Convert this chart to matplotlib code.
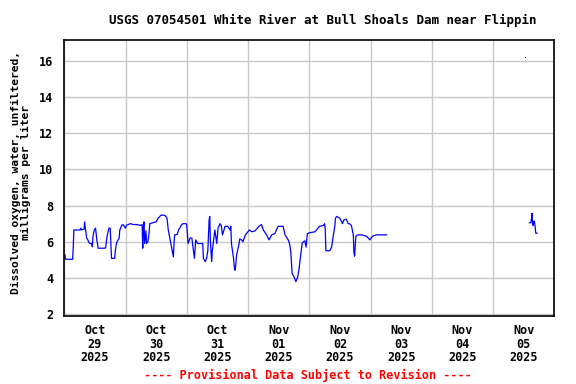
import numpy as np
import matplotlib
matplotlib.use("Agg")
import matplotlib.pyplot as plt
import matplotlib.dates as mdates
from datetime import datetime, timedelta

# Data: hours after 2025-10-29 00:00, dissolved oxygen (mg/L)
hours_a = [0.25, 0.5, 3.25, 3.5, 3.75, 6.25, 6.5, 6.75, 7.75, 8.0, 8.25, 8.5, 8.75, 9.25, 9.5,
           10, 10.75, 11, 11.25, 11.75, 12.25, 12.75, 13, 13.25, 16, 16.25, 16.75, 17.5, 18,
           18.25, 18.5, 19.75, 20, 20.5, 21.5, 21.75, 22.5, 23, 24, 24.25, 25, 26, 27, 28.5,
           29.75, 30.5, 30.75, 31, 31.25, 31.5, 32, 32.25, 32.75, 33.25, 33.5, 34.75, 36,
           36.75, 38, 39.5, 40.25, 40.75, 41.75, 42.75, 43, 43.25, 44.25, 44.75, 45.25, 45.75,
           46.5, 47.75, 48, 48.5, 49.25, 50, 50.25, 51, 51.5, 52.25, 54.25, 54.5, 55.25, 55.75,
           56.25, 56.75, 57, 57.25, 57.75, 58, 59, 59.75, 60.25, 61, 61.5, 62, 63, 64, 65,
           65.25, 65.5, 66.25, 66.75, 67, 67.5, 68.5, 68.75, 69.5, 70, 71, 72.5, 73.5, 74.75,
           76.25, 77.25, 78, 79.25, 80.25, 81.25, 82.5, 83.75, 85.75, 86.5, 87.75, 88.25,
           88.75, 89.25, 90, 90.75, 91.5, 92, 92.75, 93.25, 94.25, 94.75, 95.25, 96.25, 98.25,
           100, 101.5, 102, 102.25, 102.5, 104, 104.75, 105.25, 106, 106.25, 106.75, 108, 109,
           109.5, 110.5, 111.25, 111.75, 112.5, 113.25, 113.5, 113.75, 114.25, 115, 116.5,
           118.5, 119.75, 120.75, 122.25, 124.25, 126.25]
values_a = [5.27, 5.03, 5.03, 5.64, 6.65, 6.65, 6.75, 6.65, 6.7, 7.1, 6.7, 6.5, 6.2, 6.1, 6.0,
            5.9, 5.9, 5.72, 6.3, 6.65, 6.75, 6.1, 5.9, 5.64, 5.64, 5.72, 6.3, 6.75, 6.75,
            5.9, 5.08, 5.08, 5.5, 5.95, 6.2, 6.65, 6.9, 6.95, 6.75, 6.9, 6.95, 7.0, 6.95, 6.95,
            6.9, 6.95, 5.64, 6.8, 7.1, 5.9, 6.6, 5.9, 6.0, 6.5, 7.0, 7.05, 7.1,
            7.3, 7.48, 7.45, 7.3, 6.65, 5.9, 5.16, 5.9, 6.38, 6.4, 6.65, 6.75, 6.9,
            7.0, 7.0, 6.9, 5.9, 6.2, 6.2, 5.9, 5.08, 6.1, 5.9, 5.9, 5.08, 4.9, 5.08,
            5.5, 7.2, 7.4, 6.0, 4.9, 5.5, 6.65, 5.9, 6.75, 7.0, 6.9, 6.38, 6.85, 6.85, 6.65,
            6.85, 5.9, 5.16, 4.43, 4.43, 5.25, 5.9, 6.15, 6.1, 6.0, 6.38, 6.65, 6.55, 6.6,
            6.85, 6.95, 6.65, 6.38, 6.1, 6.38, 6.45, 6.85, 6.85, 6.38, 6.1, 5.9,
            5.45, 4.25, 4.06, 3.79, 4.06, 4.52, 5.4, 5.95, 6.05, 5.7, 6.45, 6.5, 6.55,
            6.85, 6.9, 7.0, 6.7, 5.5, 5.5, 5.7, 6.2, 6.85, 7.3, 7.4, 7.3, 7.0,
            7.2, 7.25, 7.0, 7.0, 6.9, 6.38, 5.4, 5.2, 6.3, 6.38, 6.38,
            6.3, 6.1, 6.3, 6.38, 6.38, 6.38]

hours_pt = [180.5]
values_pt = [16.2]

hours_b = [182.25, 182.75, 183.0, 183.25, 183.5, 183.75, 184.0, 184.25, 184.5, 184.75, 185.25]
values_b = [7.05, 7.05, 7.2, 7.57, 6.95, 6.9, 7.15, 7.1, 6.83, 6.47, 6.47]

day_labels = ["Oct\n29\n2025", "Oct\n30\n2025", "Oct\n31\n2025", "Nov\n01\n2025",
              "Nov\n02\n2025", "Nov\n03\n2025", "Nov\n04\n2025", "Nov\n05\n2025"]
y_ticks = [2, 4, 6, 8, 10, 12, 14, 16]

start = datetime(2025, 10, 29)
to_dt = lambda hs: [start + timedelta(hours=h) for h in hs]

mono = "DejaVu Sans Mono"
fig = plt.figure(figsize=(5.76, 3.84), dpi=100)
ax = fig.add_axes([0.1116, 0.1771, 0.8507, 0.7187])

ax.plot(to_dt(hours_a), values_a, color="#0000ff", lw=0.9)
ax.plot(to_dt(hours_b), values_b, color="#0000ff", lw=0.9)
ax.plot(to_dt(hours_pt), values_pt, marker="s", ms=0.7, color="#0000ff", lw=0, mew=0)

ax.set_xlim(start, start + timedelta(days=8))
ax.set_ylim(1.89, 17.16)

ax.xaxis.set_major_locator(mdates.DayLocator())
ax.xaxis.set_major_formatter(plt.NullFormatter())
noon = [start + timedelta(hours=12 + 24 * i) for i in range(8)]
ax.set_xticks(noon, minor=True)
ax.set_xticklabels(day_labels, minor=True, fontfamily=mono, fontweight="bold",
                   fontsize=8.5, linespacing=1.05)
ax.tick_params(axis="x", which="both", length=0, pad=6)
ax.set_yticks(y_ticks)
ax.set_yticklabels([str(v) for v in y_ticks], fontfamily=mono, fontweight="bold", fontsize=8.5)
ax.tick_params(axis="y", length=4, direction="in", color="#c8c8c8", pad=8)

ax.grid(True, which="major", color="#c8c8c8", lw=1)
ax.set_axisbelow(True)
for s in ax.spines.values():
    s.set_linewidth(1.2)
    s.set_color("black")

ax.set_ylabel("Dissolved oxygen, water, unfiltered,\nmilligrams per liter",
              fontfamily=mono, fontweight="bold", fontsize=8.1, linespacing=1.0, labelpad=5)
ax.yaxis.set_label_coords(-0.068, 0.52)

fig.text(0.561, 0.948, "USGS 07054501 White River at Bull Shoals Dam near Flippin",
         ha="center", va="center", fontfamily=mono, fontweight="bold", fontsize=9)
fig.text(0.535, 0.023, "---- Provisional Data Subject to Revision ----", color="red",
         ha="center", va="center", fontfamily=mono, fontweight="bold", fontsize=8.5)

fig.savefig("out.png", dpi=100)
